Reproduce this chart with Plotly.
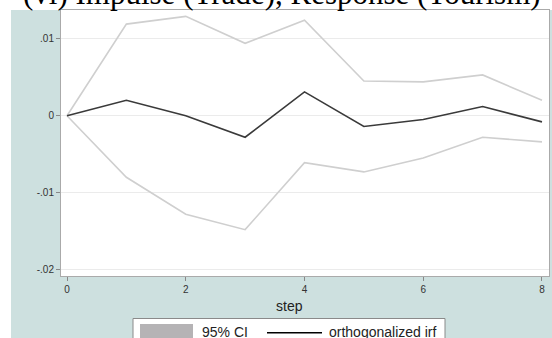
import plotly.graph_objects as go

steps = [0, 1, 2, 3, 4, 5, 6, 7, 8]
irf = [0.0, 0.0020, 0.0000, -0.0028, 0.0031, -0.0014, -0.0005, 0.0012, -0.0008]
ci_upper = [0.0, 0.0119, 0.0129, 0.0094, 0.0124, 0.0045, 0.0044, 0.0053, 0.0020]
ci_lower = [0.0, -0.0080, -0.0128, -0.0148, -0.0061, -0.0073, -0.0055, -0.0028, -0.0034]
y_ticks = [-0.02, -0.01, 0, 0.01]
y_tick_labels = ["-.02", "-.01", "0", ".01"]
x_ticks = [0, 2, 4, 6, 8]

W, H = 552, 338
L, R, T, B = 61, 3, 10, 62
pw, ph = W - L - R, H - T - B

def px(x):
    return (x - L) / pw

def py(y):
    return (H - B - y) / ph

TEAL = "#cde0df"

fig = go.Figure()
fig.add_trace(go.Scatter(x=steps, y=ci_upper, mode="lines",
                         line=dict(color="#cfcfcf", width=1.6), showlegend=False))
fig.add_trace(go.Scatter(x=steps, y=ci_lower, mode="lines",
                         line=dict(color="#cfcfcf", width=1.6), showlegend=False))
fig.add_trace(go.Scatter(x=steps, y=irf, mode="lines",
                         line=dict(color="#3a3a3a", width=1.6), showlegend=False))

shapes = [
    # white strips outside the teal graph region
    dict(type="rect", xref="paper", yref="paper", x0=px(-5), x1=px(W + 5), y0=py(10), y1=py(-5),
         fillcolor="white", line=dict(width=0), layer="below"),
    dict(type="rect", xref="paper", yref="paper", x0=px(-5), x1=px(11), y0=py(H + 5), y1=py(-5),
         fillcolor="white", line=dict(width=0), layer="below"),
    # legend box
    dict(type="rect", xref="paper", yref="paper", x0=px(133), x1=px(445), y0=py(345), y1=py(318.5),
         fillcolor="white", line=dict(color="#8a8a8a", width=1)),
    dict(type="rect", xref="paper", yref="paper", x0=px(140), x1=px(193), y0=py(345), y1=py(324),
         fillcolor="#b5b3b5", line=dict(width=0)),
    dict(type="line", xref="paper", yref="paper", x0=px(267), x1=px(322), y0=py(332.7), y1=py(332.7),
         line=dict(color="black", width=1.6)),
]

annotations = [
    dict(text="(vi) Impulse (Trade), Response (Tourism)", xref="paper", yref="paper",
         x=px(21), y=py(13), xanchor="left", yanchor="bottom", showarrow=False,
         font=dict(family="Liberation Serif", size=31, color="black")),
    dict(text="95% CI", xref="paper", yref="paper", x=px(200), y=py(332),
         xanchor="left", yanchor="middle", showarrow=False,
         font=dict(family="Liberation Sans", size=14, color="#222")),
    dict(text="orthogonalized irf", xref="paper", yref="paper", x=px(327), y=py(332),
         xanchor="left", yanchor="middle", showarrow=False,
         font=dict(family="Liberation Sans", size=14, color="#222")),
    dict(text="step", xref="paper", yref="paper", x=px(289), y=py(306),
         xanchor="center", yanchor="middle", showarrow=False,
         font=dict(family="Liberation Sans", size=14, color="#222")),
]

fig.update_layout(
    width=W, height=H,
    margin=dict(l=L, r=R, t=T, b=B),
    paper_bgcolor=TEAL, plot_bgcolor="white",
    shapes=shapes, annotations=annotations,
    showlegend=False,
    xaxis=dict(range=[-0.101, 8.118], tickvals=x_ticks, ticks="outside", ticklen=4,
               tickcolor="#888", showgrid=False, zeroline=False, showline=True,
               linecolor="#aaaaaa", mirror=True,
               tickfont=dict(family="Liberation Sans", size=10, color="#333")),
    yaxis=dict(range=[-0.02082, 0.01373], tickvals=y_ticks, ticktext=y_tick_labels,
               ticks="outside", ticklen=4, tickcolor="#888", showgrid=True,
               gridcolor="#ebebeb", gridwidth=1.2, zeroline=False, showline=True,
               linecolor="#aaaaaa", mirror=True,
               tickfont=dict(family="Liberation Sans", size=10, color="#333")),
)

fig.write_html("out.html", config={"displayModeBar": False},
               post_script="document.body.style.margin='0';document.body.style.overflow='hidden';")
